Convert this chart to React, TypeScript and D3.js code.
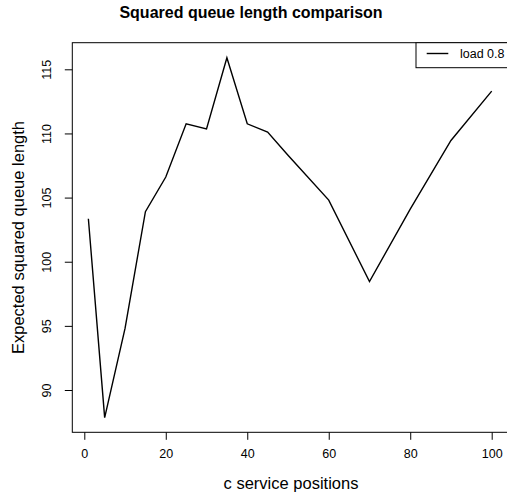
import React, { useEffect, useRef } from 'react';
import * as d3 from 'd3';

// c service positions and expected squared queue length (load 0.8)
const positions = [1, 5, 10, 15, 20, 25, 30, 35, 40, 45, 50, 60, 70, 80, 90, 100];
const sqLength = [103.35, 87.85, 94.8, 103.9, 106.6, 110.75, 110.35, 115.9, 110.75, 110.1, 108.3, 104.8, 98.45, 104.1, 109.45, 113.3];
const xTicks = [0, 20, 40, 60, 80, 100];
const yTicks = [90, 95, 100, 105, 110, 115];
const seriesName = 'load 0.8';

const FONT = '"Liberation Sans", Arial, Helvetica, sans-serif';

const App = () => {
    const svgRef = useRef<SVGSVGElement>(null);

    useEffect(() => {
        const svg = d3.select(svgRef.current);
        svg.selectAll('*').remove();

        const box = { left: 72.3, top: 42.7, right: 510, bottom: 432.3 };

        const x = d3.scaleLinear().domain([0, 100]).range([84.3, 491.7]);
        const y = d3.scaleLinear().domain([90, 115]).range([390, 69.3]);

        svg.append('rect')
            .attr('width', 507).attr('height', 495).attr('fill', '#fff');

        // title
        svg.append('text')
            .attr('x', 251).attr('y', 18)
            .attr('text-anchor', 'middle')
            .style('font-family', FONT).style('font-weight', 'bold').style('font-size', '16px')
            .text('Squared queue length comparison');

        // line
        const line = d3.line<number>()
            .x((_, i) => x(positions[i]))
            .y(d => y(d));
        svg.append('path')
            .datum(sqLength)
            .attr('d', line)
            .attr('fill', 'none')
            .attr('stroke', '#000')
            .attr('stroke-width', 1.4)
            .attr('stroke-linejoin', 'miter');

        // plot box
        svg.append('rect')
            .attr('x', box.left).attr('y', box.top)
            .attr('width', box.right - box.left).attr('height', box.bottom - box.top)
            .attr('fill', 'none').attr('stroke', '#000').attr('stroke-width', 1);

        // x axis
        const xa = svg.append('g').attr('transform', `translate(0,${box.bottom})`);
        xa.call(d3.axisBottom(x).tickValues(xTicks).tickSize(7.5).tickFormat(d3.format('d')));
        xa.select('.domain').remove();
        xa.selectAll('.tick text')
            .attr('y', 26).attr('dy', null)
            .attr('fill', '#000')
            .style('font-family', FONT).style('font-size', '12.5px');

        // y axis
        const ya = svg.append('g').attr('transform', `translate(${box.left},0)`);
        ya.call(d3.axisLeft(y).tickValues(yTicks).tickSize(7.5).tickFormat(d3.format('d')));
        ya.select('.domain').remove();
        ya.selectAll('.tick text')
            .attr('x', null)
            .attr('transform', 'translate(-25.5,0) rotate(-90)')
            .attr('text-anchor', 'middle')
            .attr('dy', '0.35em')
            .attr('fill', '#000')
            .style('font-family', FONT).style('font-size', '12.5px');

        // axis titles
        svg.append('text')
            .attr('x', 291).attr('y', 489)
            .attr('text-anchor', 'middle')
            .style('font-family', FONT).style('font-size', '16.5px')
            .text('c service positions');
        svg.append('text')
            .attr('transform', `translate(23.5,${(box.top + box.bottom) / 2}) rotate(-90)`)
            .attr('text-anchor', 'middle')
            .style('font-family', FONT).style('font-size', '16.5px')
            .text('Expected squared queue length');

        // legend
        const lg = svg.append('g');
        lg.append('rect')
            .attr('x', 416).attr('y', box.top)
            .attr('width', 120).attr('height', 67.7 - box.top)
            .attr('fill', '#fff').attr('stroke', '#000').attr('stroke-width', 1);
        lg.append('line')
            .attr('x1', 426.7).attr('x2', 448.3).attr('y1', 53.5).attr('y2', 53.5)
            .attr('stroke', '#000').attr('stroke-width', 1.4);
        lg.append('text')
            .attr('x', 460).attr('y', 58)
            .style('font-family', FONT).style('font-size', '12.5px')
            .text(seriesName);
    }, []);

    return (
        <svg ref={svgRef} width={507} height={495}
            style={{ position: 'absolute', left: 0, top: 0, display: 'block' }} />
    );
};

export default App;
